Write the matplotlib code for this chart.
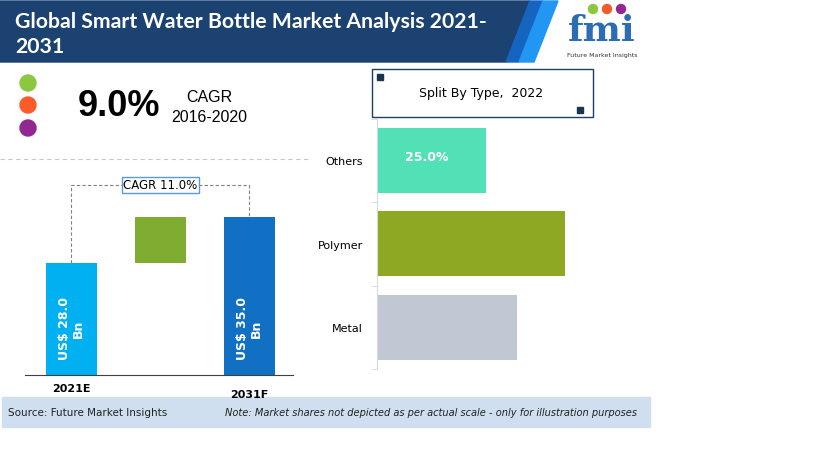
import matplotlib.pyplot as plt
from matplotlib.patches import Rectangle, Polygon, Circle
from matplotlib.lines import Line2D

# left chart: market size (not to scale, the picture uses a cut y axis)
years = ['2021E', '', '2031F']
size_2021 = 28.0
size_2031 = 35.0
cagr_text = 'CAGR 11.0%'
base_value = 10.96  # where the cut axis starts

# right chart: split by type
types = ['Metal', 'Polymer', 'Others']
shares = [32.0, 43.0, 25.0]
type_colors = ['#c2c8d3', '#8fa823', '#52e0b6']

W, H = 819, 460
fig = plt.figure(figsize=(W / 100, H / 100), dpi=100)


def px_axes(left, top, right, bottom, **kw):
    return fig.add_axes([left / W, 1 - bottom / H, (right - left) / W, (bottom - top) / H], **kw)


# background layer in pixel units for banner, logo, footer
bg = px_axes(0, 0, W, H)
bg.set_xlim(0, W)
bg.set_ylim(H, 0)
bg.axis('off')

bg.add_patch(Polygon([(0, 2), (530, 2), (506, 63), (0, 63)], color='#1b4270'))
bg.add_patch(Polygon([(530, 2), (543, 2), (519, 63), (506, 63)], color='#1565c0'))
bg.add_patch(Polygon([(543, 2), (558, 2), (534, 63), (519, 63)], color='#2196f3'))
bg.text(15, 22, 'Global Smart Water Bottle Market Analysis 2021-', color='white',
        fontsize=15.3, fontweight='bold', family='Lato', va='center')
bg.text(15, 47, '2031', color='white', fontsize=15.3, fontweight='bold', family='Lato', va='center')

# logo
bg.text(602, 31, 'fmi', color='#2b6cb5', fontsize=26, fontweight='bold', family='DejaVu Serif',
        ha='center', va='center')
for cx, c in zip([593, 607, 621], ['#8dc63f', '#f15a29', '#92278f']):
    bg.add_patch(Circle((cx, 10), 4.5, color=c))
bg.text(602, 55, 'Future Market Insights', fontsize=4.5, ha='center', va='center', color='#333333')

# CAGR block
for cy, c in zip([84, 106, 129], ['#8dc63f', '#ff5a2a', '#92278f']):
    bg.add_patch(Circle((28, cy), 8, color=c))
bg.text(78, 106, '9.0%', fontsize=26, fontweight='bold', family='Liberation Sans', va='center')
bg.text(209, 97, 'CAGR', fontsize=11.5, family='Liberation Sans', ha='center', va='center')
bg.text(209, 118, '2016-2020', fontsize=11.5, family='Liberation Sans', ha='center', va='center')
bg.add_line(Line2D([0, 310], [160, 160], color='#c8c8c8', lw=0.8, ls=(0, (4, 3))))

# split-by-type title box
bg.add_patch(Rectangle((372, 70), 221, 48, fill=False, ec='#1b3f63', lw=1))
bg.add_patch(Rectangle((377, 75), 6, 6, color='#1a3550'))
bg.add_patch(Rectangle((577, 108), 6, 6, color='#1a3550'))
bg.text(481, 93, 'Split By Type,  2022', fontsize=9, ha='center', va='center')

# footer
bg.add_patch(Rectangle((2, 398), 648, 30, color='#d0dff0'))
bg.text(8, 413, 'Source: Future Market Insights', fontsize=7.5, va='center', color='#222222')
bg.text(225, 413, 'Note: Market shares not depicted as per actual scale - only for illustration purposes',
        fontsize=7.1, style='italic', va='center', color='#222222')

# left chart
ax = px_axes(25, 170, 293, 376)
ax.patch.set_alpha(0)
ax.bar([0], [size_2021 - base_value], bottom=base_value, width=0.573, color='#00b0f0')
ax.bar([1], [size_2031 - size_2021], bottom=size_2021, width=0.573, color='#7fac31')
ax.bar([2], [size_2031 - base_value], bottom=base_value, width=0.573, color='#1170c4')
ax.set_xlim(-0.522, 2.489)
ax.set_ylim(base_value, base_value + 206 / 6.571)
for s in ['top', 'right', 'left']:
    ax.spines[s].set_visible(False)
ax.spines['bottom'].set_color('#404040')
ax.set_yticks([])
ax.set_xticks([])
label_y = base_value + (size_2021 - base_value) * 0.42
for x, v, lab, dy in [(0, size_2021, years[0], 0), (2, size_2031, years[2], 5)]:
    ax.text(x, label_y, f'US$ {v:.1f}\nBn',
            rotation=90, color='white', fontsize=9, fontweight='bold', ha='center', va='center',
            linespacing=1.1)
    ax.annotate(lab, (x, base_value), xytext=(0, -9 - dy), textcoords='offset points',
                ha='center', va='center', fontsize=8, fontweight='bold')

top_line = size_2031 + 4.9
ax.plot([0, 0, 2, 2], [size_2021, top_line, top_line, size_2031], color='#808080', lw=0.8,
        ls=(0, (3, 2)))
ax.text(1, top_line, cagr_text, ha='center', va='center', fontsize=8.5,
        bbox=dict(boxstyle='square,pad=0.15', fc='white', ec='#5b9bd5', lw=1))

# right chart
ax2 = px_axes(377, 119.5, 650, 370)
ax2.patch.set_alpha(0)
ax2.barh(range(len(types)), shares, height=0.78, color=type_colors)
ax2.set_ylim(-0.5, 2.5)
ax2.set_xlim(0, 62.6)
for s in ['top', 'right', 'bottom']:
    ax2.spines[s].set_visible(False)
ax2.spines['left'].set_color('#d9d9d9')
ax2.set_xticks([])
ax2.set_yticks(range(len(types)))
ax2.set_yticklabels(types, fontsize=8)
ax2.tick_params(axis='y', which='major', length=0, pad=10)
ax2.set_yticks([-0.5, 0.5, 1.5, 2.5], minor=True)
ax2.tick_params(axis='y', which='minor', length=4, color='#d9d9d9')
ax2.text(shares[2] / 2 - 1.2, 2 + 0.05, f'{shares[2]:.1f}%', color='white', fontsize=9,
         fontweight='bold', ha='center', va='center')

fig.savefig('out.png', dpi=100)
